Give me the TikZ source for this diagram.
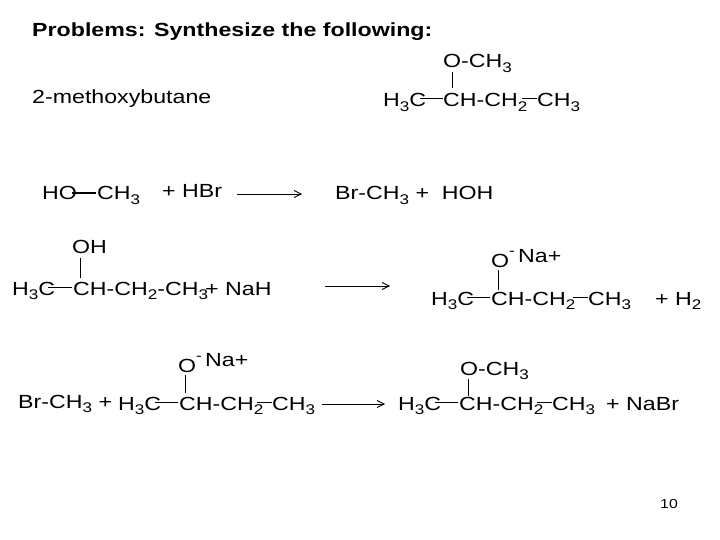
\documentclass[tikz,border=0pt]{standalone}
\usepackage{fontspec}
\setmainfont[FakeStretch=1.22]{Liberation Sans}
\usetikzlibrary{arrows.meta}
\newcommand{\chsub}[1]{\raisebox{-0.4ex}{\fontsize{14}{14}\selectfont #1}}
\newcommand{\spm}{\raisebox{1.1ex}{\fontsize{14}{14}\selectfont -}}
\begin{document}
\begin{tikzpicture}[x=1pt,y=-1pt,
  t/.style={anchor=base west,inner sep=0pt,font=\fontsize{19}{21}\selectfont},
  bd/.style={line width=0.8pt},
  rx/.style={line width=0.8pt,-{Straight Barb[length=7pt,width=7pt]}}]
\useasboundingbox (0,0) rectangle (720,540);
\node[t,font=\bfseries\fontsize{19}{21}\selectfont] (title) at (32,37) {Problems: Synthesize the following:};
\node[t] (name) at (32,104) {2-methoxybutane};
% target
\node[t] (a1) at (443,68) {O-CH\chsub{3}};
\node[t] (a2) at (383,107) {H\chsub{3}C};
\node[t] (a3) at (443,107) {CH-CH\chsub{2}};
\node[t] (a4) at (537,107) {CH\chsub{3}};
\draw[bd] (452,72) -- (452,88);
\draw[bd] (420,98) -- (443,98);
\draw[bd] (522,98) -- (537,98);
% row 1
\node[t] (b1) at (42,200) {HO};
\node[t] (b2) at (97,200) {CH\chsub{3}};
\node[t] (b3) at (162,197) {+ HBr};
\node[t] (b4) at (335,200) {Br-CH\chsub{3} +\ \ HOH};
\draw[bd,line width=1.4pt] (72,193) -- (96,193);
\draw[rx] (237,194) -- (302,194);
% row 2
\node[t] (c1) at (72,254) {OH};
\node[t] (c2) at (12,295) {H\chsub{3}C};
\node[t] (c3) at (73,295) {CH-CH\chsub{2}-CH\chsub{3}};
\node[t] (c4) at (205,295) {+ NaH};
\draw[bd] (80,258) -- (80,278);
\draw[bd] (48,287) -- (72,287);
\draw[rx] (325,286) -- (390,286);
\node[t] (d1) at (491,267) {O\spm};
\node[t] (d2) at (518,262) {Na+};
\node[t] (d3) at (431,305) {H\chsub{3}C};
\node[t] (d4) at (491,305) {CH-CH\chsub{2}};
\node[t] (d5) at (588,305) {CH\chsub{3}};
\node[t] (d6) at (655,305) {+ H\chsub{2}};
\draw[bd] (498,270) -- (498,290);
\draw[bd] (467,297) -- (490,297);
\draw[bd] (573,297) -- (588,297);
% row 3
\node[t] (e0) at (18,408) {Br-CH\chsub{3} +};
\node[t] (e1) at (178,372) {O\spm};
\node[t] (e2) at (205,366) {Na+};
\node[t] (e3) at (118,410) {H\chsub{3}C};
\node[t] (e4) at (179,410) {CH-CH\chsub{2}};
\node[t] (e5) at (272,410) {CH\chsub{3}};
\draw[bd] (185,375) -- (185,393);
\draw[bd] (155,402) -- (178,402);
\draw[bd] (257,402) -- (272,402);
\draw[rx] (322,404) -- (385,404);
\node[t] (f1) at (460,375) {O-CH\chsub{3}};
\node[t] (f2) at (398,410) {H\chsub{3}C};
\node[t] (f3) at (459,410) {CH-CH\chsub{2}};
\node[t] (f4) at (552,410) {CH\chsub{3}};
\node[t] (f5) at (606,410) {+ NaBr};
\draw[bd] (468,379) -- (468,396);
\draw[bd] (435,402) -- (458,402);
\draw[bd] (537,402) -- (552,402);
\node[t,font=\fontsize{13}{14}\selectfont] (pg) at (660,508) {10};
\end{tikzpicture}
\end{document}
